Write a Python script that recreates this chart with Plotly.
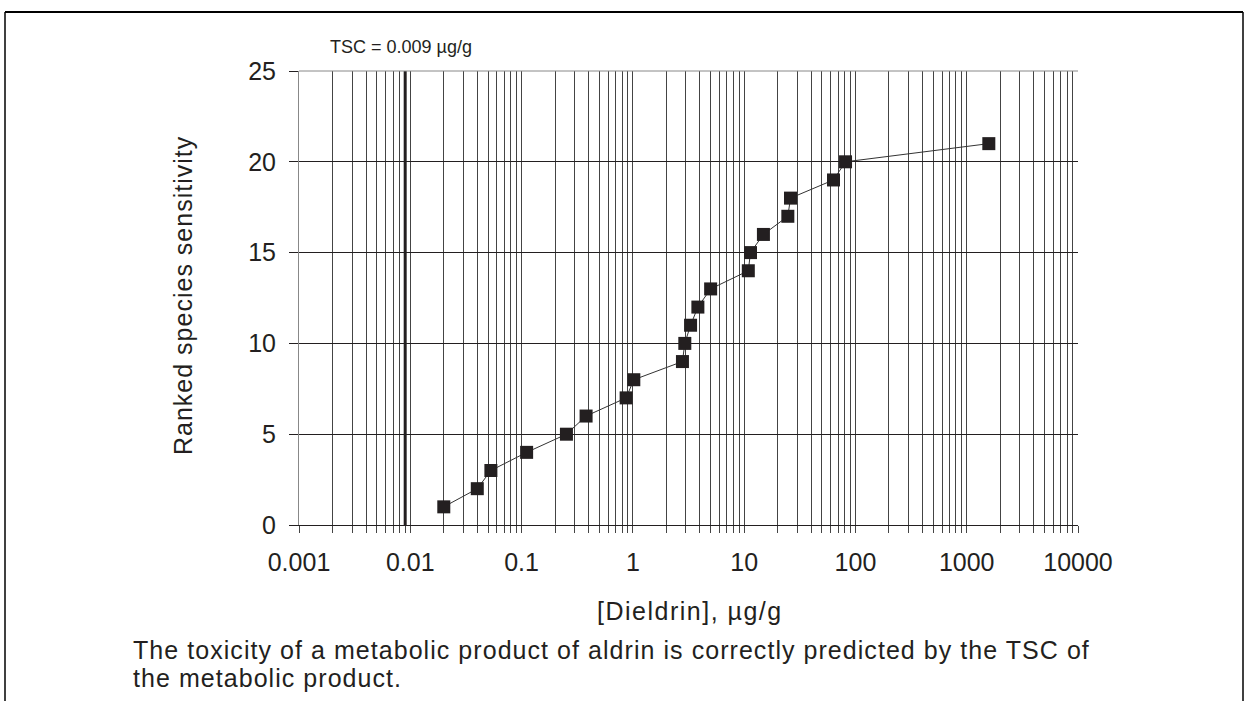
import plotly.graph_objects as go

# Data
rank = list(range(1, 22))
dieldrin = [0.02, 0.04, 0.053, 0.111, 0.253, 0.38, 0.87, 1.02, 2.79, 2.93, 3.30,
            3.84, 5.0, 10.9, 11.4, 14.9, 24.7, 26.1, 63.5, 81.5, 1580]
tsc_value = 0.009
decades = [0.001, 0.01, 0.1, 1, 10, 100, 1000, 10000]
decade_labels = ["0.001", "0.01", "0.1", "1", "10", "100", "1000", "10000"]
y_ticks = [0, 5, 10, 15, 20, 25]
caption_lines = ["The toxicity of a metabolic product of aldrin is correctly predicted by the TSC of",
                 "the metabolic product."]

# all log gridline positions (labels only at decades)
tickvals, ticktext = [], []
for i, d in enumerate(decades):
    tickvals.append(d)
    ticktext.append(decade_labels[i])
    if i < len(decades) - 1:
        for m in range(2, 10):
            tickvals.append(d * m)
            ticktext.append("")

FONT = "Liberation Sans, Arial, sans-serif"
DARK = "#231f20"

fig = go.Figure()
fig.add_trace(go.Scatter(
    x=[tsc_value, tsc_value], y=[0, 25], mode="lines",
    line=dict(color=DARK, width=3), showlegend=False, hoverinfo="skip"))
fig.add_trace(go.Scatter(
    x=dieldrin, y=rank, mode="lines+markers",
    line=dict(color="#333333", width=1),
    marker=dict(symbol="square", size=13, color=DARK),
    showlegend=False))

W, H = 1248, 701
L, R, T, B = 299, 1078, 71, 525

def px(x):  # page x -> paper
    return (x - L) / (R - L)

def py(y):  # page y -> paper
    return (B - y) / (B - T)

def spaced(txt, ls):
    return f'<span style="letter-spacing:{ls}px">{txt}</span>'

annotations = [
    dict(text=spaced("Ranked species sensitivity", 1), xref="paper", yref="paper",
         x=px(183), y=py(296), textangle=-90, showarrow=False,
         font=dict(size=25, family=FONT, color=DARK), xanchor="center", yanchor="middle"),
    dict(text=spaced("[Dieldrin], µg/g", 1.5), xref="paper", yref="paper",
         x=px(690), y=py(611), showarrow=False,
         font=dict(size=25, family=FONT, color=DARK), xanchor="center", yanchor="middle"),
    dict(text="TSC = 0.009 µg/g", xref="paper", yref="paper",
         x=px(328), y=py(47), showarrow=False,
         font=dict(size=18, family=FONT, color=DARK), xanchor="left", yanchor="middle"),
]
for i, line in enumerate(caption_lines):
    annotations.append(dict(
        text=spaced(line, 1.05), xref="paper", yref="paper",
        x=px(131), y=py(650 + 28 * i), showarrow=False, align="left",
        font=dict(size=25, family=FONT, color=DARK), xanchor="left", yanchor="middle"))

fig.update_layout(
    width=W, height=H,
    margin=dict(l=L, r=W - R, t=T, b=H - B, pad=0),
    paper_bgcolor="white", plot_bgcolor="white",
    font=dict(family=FONT, color=DARK, size=25),
    xaxis=dict(
        type="log", range=[-3, 4],
        tickvals=tickvals, ticktext=ticktext,
        ticks="outside", ticklen=7, tickcolor="#444444", tickwidth=1,
        showgrid=True, gridcolor="#444444", gridwidth=1,
        showline=True, linecolor=DARK, linewidth=1,
        zeroline=False, tickfont=dict(size=25, family=FONT, color=DARK),
        ticklabelstandoff=8,
    ),
    yaxis=dict(
        range=[0, 25], tickvals=y_ticks,
        ticks="outside", ticklen=9, tickcolor=DARK, tickwidth=1,
        showgrid=True, gridcolor=DARK, gridwidth=1,
        showline=True, linecolor="#888888", linewidth=1,
        zeroline=False, tickfont=dict(size=25, family=FONT, color=DARK),
        ticklabelstandoff=8,
    ),
    shapes=[
        # outer frame
        dict(type="line", xref="paper", yref="paper", x0=px(5), x1=px(1243), y0=py(12), y1=py(12),
             line=dict(color="black", width=2)),
        dict(type="line", xref="paper", yref="paper", x0=px(5), x1=px(5), y0=py(12), y1=py(705),
             line=dict(color="black", width=1.5)),
        dict(type="line", xref="paper", yref="paper", x0=px(1243), x1=px(1243), y0=py(12), y1=py(705),
             line=dict(color="black", width=1.5)),
        # top border of plot
        dict(type="line", xref="paper", yref="paper", x0=0, x1=1, y0=1, y1=1,
             line=dict(color="#888888", width=1)),
    ],
    annotations=annotations,
)

fig.write_html("out.html", config={"displayModeBar": False},
               post_script="document.body.style.margin='0';document.body.style.overflow='hidden';")
